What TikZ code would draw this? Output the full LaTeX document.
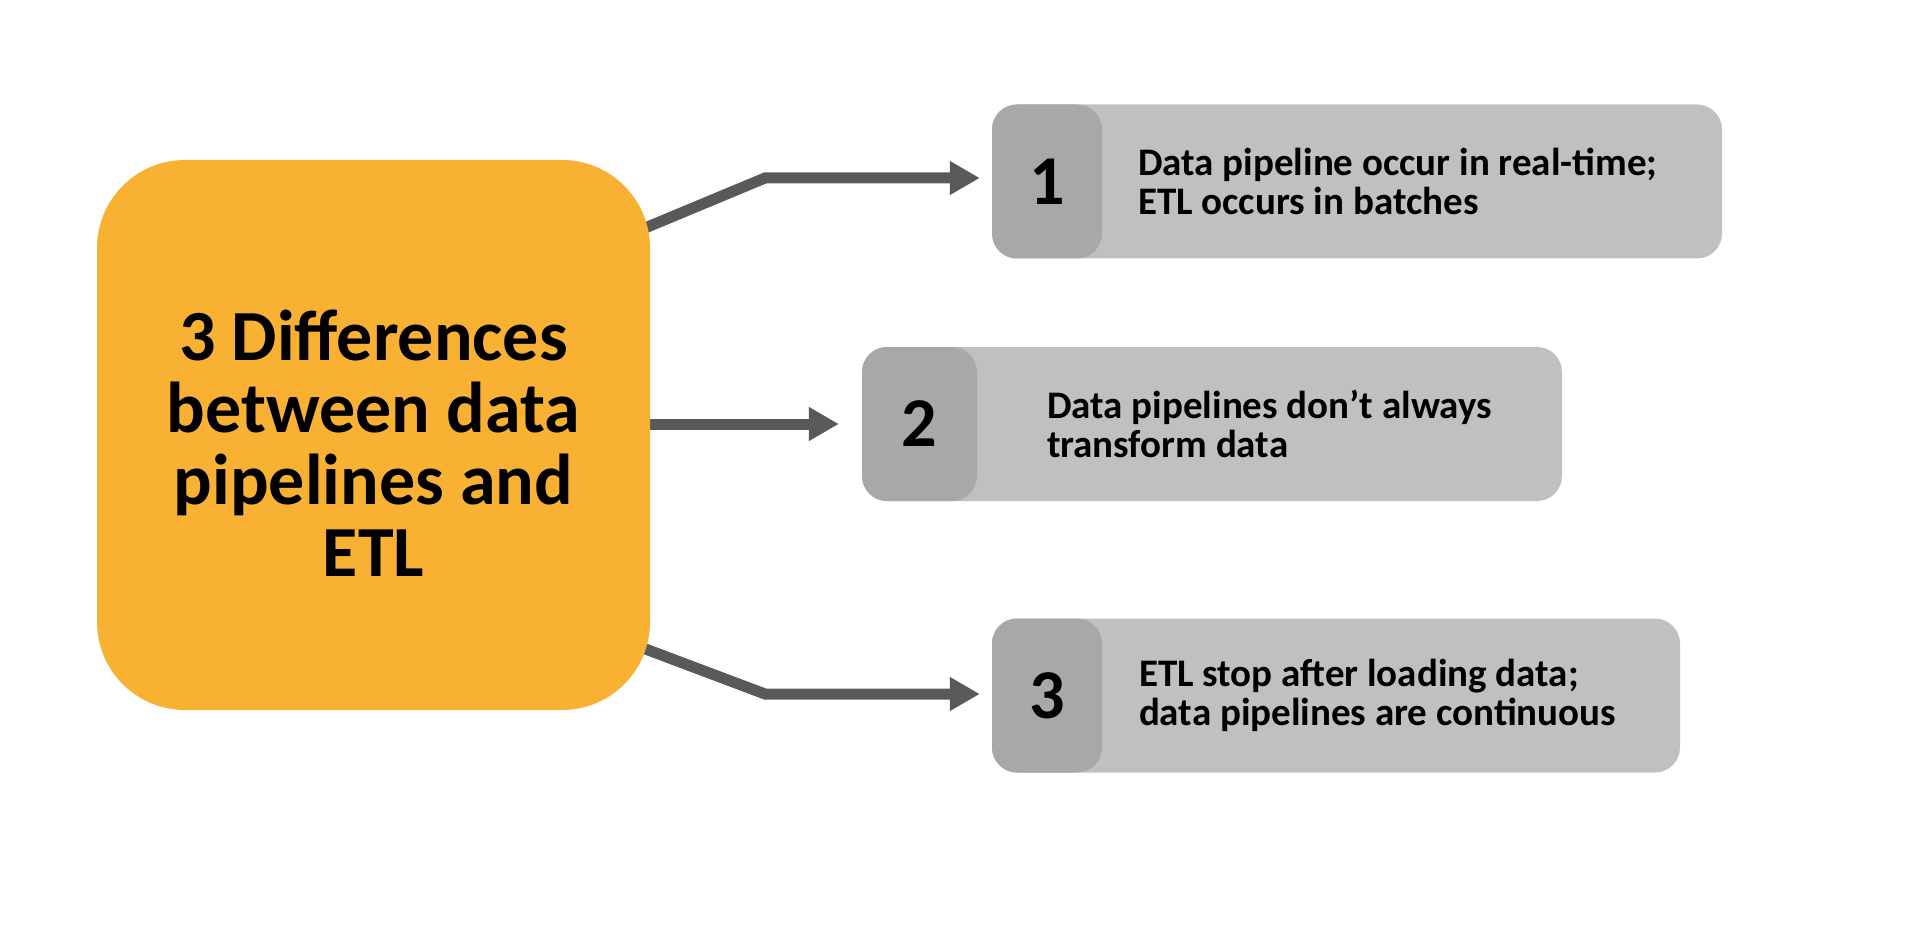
\documentclass[tikz,border=0pt]{standalone}
\usepackage{fontspec}
\setmainfont{Carlito}
\usepackage{tikz}
\usetikzlibrary{arrows.meta}
\definecolor{mainorange}{HTML}{F8B133}
\definecolor{lightbox}{HTML}{C0C0C0}
\definecolor{darkbox}{HTML}{A8A8A8}
\definecolor{arrowgray}{HTML}{595959}
\tikzset{
    mainbox/.style={fill=mainorange, draw=none, rounded corners=88pt,
    	minimum width=553pt, minimum height=550pt, inner sep=0pt},
    maintext/.style={align=center, inner sep=0pt,
    	font=\fontsize{72}{72}\selectfont\bfseries}
}
\tikzset{
    itembox/.style={fill=lightbox, draw=none, rounded corners=25pt,
    	minimum height=154pt, inner sep=0pt,
    	path picture={\fill[darkbox] (path picture bounding box.south west)
    	rectangle ([xshift=#1]path picture bounding box.north west);}},
    itembox/.default=110pt
}
\tikzset{
    numtext/.style={inner sep=0pt, font=\fontsize{70}{72}\selectfont\bfseries},
    itemtext/.style={anchor=west, align=left, inner sep=0pt,
    	font=\fontsize{39}{39.5}\selectfont\bfseries}
}
\tikzset{
    arrowline/.style={draw=arrowgray, line width=11pt, shorten >=12pt,
    	-{Triangle[length=30pt,width=32pt]}}
}
\pgfdeclarelayer{background}
\pgfsetlayers{background,main}

\begin{document}
\begin{tikzpicture}
	\useasboundingbox (0pt,0pt) rectangle (1920pt,-928pt);
	\node[mainbox] (main) at (373.5pt,-435pt) {};
	\node[maintext] (title) at ([yshift=-8pt]main.center) {3 Differences\\between data\\pipelines and\\ETL};
	\node[itembox, minimum width=730pt] (box1) at (1357pt,-181.5pt) {};
	\node[itembox=115pt, minimum width=700pt] (box2) at (1212pt,-424pt) {};
	\node[itembox, minimum width=688pt] (box3) at (1336pt,-695.5pt) {};
	\node[numtext] (n1) at ([xshift=55pt]box1.west) {1};
	\node[numtext] (n2) at ([xshift=57pt]box2.west) {2};
	\node[numtext] (n3) at ([xshift=55pt]box3.west) {3};
	\node[itemtext] (t1) at ([xshift=146pt]box1.west) {Data pipeline occur in real-time;\\ETL occurs in batches};
	\node[itemtext] (t2) at ([xshift=185pt]box2.west) {Data pipelines don’t always\\transform data};
	\node[itemtext] (t3) at ([xshift=147pt]box3.west) {ETL stop after loading data;\\data pipelines are continuous};
	\coordinate (k1) at (765pt,-178pt);
	\coordinate (k3) at (765pt,-694pt);
	\begin{pgfonlayer}{background}
	\draw[arrowline] ([xshift=-10pt,yshift=205pt]main.east) -- (k1) -- (k1 -| box1.west);
	\draw[arrowline, shorten >=23pt] (main.east |- box2.west) -- (box2.west);
	\draw[arrowline] ([xshift=-10pt,yshift=-212pt]main.east) -- (k3) -- (k3 -| box3.west);
	\end{pgfonlayer}
\end{tikzpicture}
\end{document}
